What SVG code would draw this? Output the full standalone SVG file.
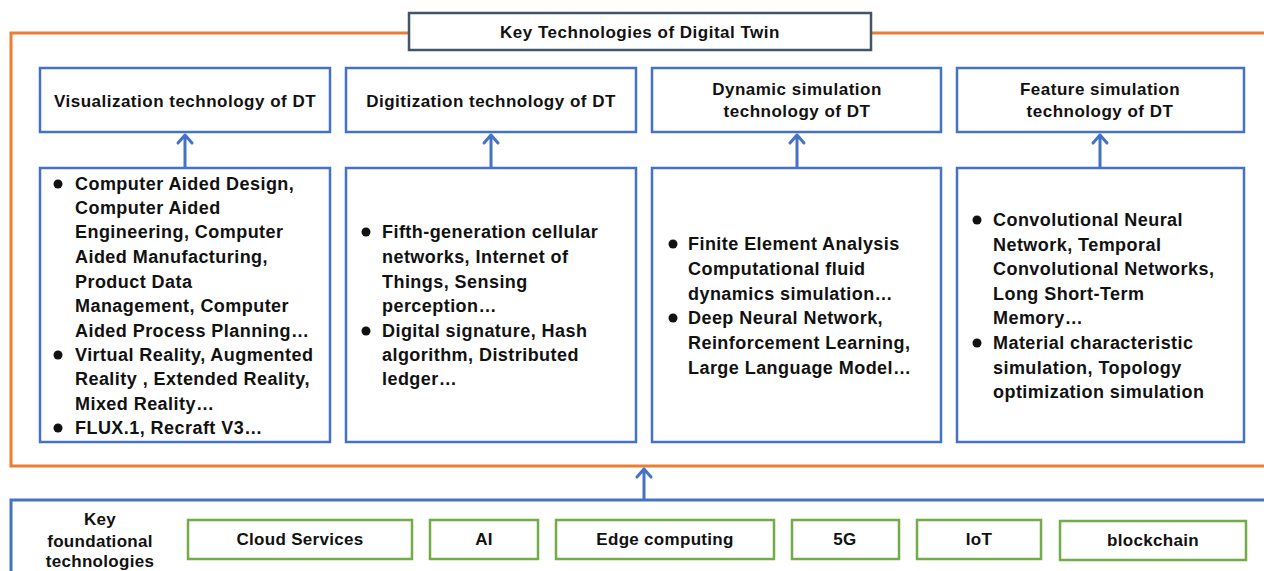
<svg xmlns="http://www.w3.org/2000/svg" width="1264" height="571" viewBox="0 0 1264 571">
<defs>
<style>
.t{font-family:"Liberation Sans",Arial,sans-serif;font-weight:bold;fill:#111;}
.hd{font-size:17px;letter-spacing:0.5px;text-anchor:middle;}
.ct{font-size:18px;letter-spacing:0.45px;}
.gl{font-size:17px;letter-spacing:0.3px;text-anchor:middle;}
.bx{fill:#fff;stroke:#4472c4;stroke-width:2.5;}
.gb{fill:#fff;stroke:#70ad47;stroke-width:2.5;}
.cn{fill:none;stroke:#4472c4;stroke-width:3;stroke-linecap:round;stroke-linejoin:round;}
</style>
</defs>
<rect width="1264" height="571" fill="#fff"/>
<g id="frame">
<rect x="11" y="33" width="1280" height="433" fill="none" stroke="#ed7d31" stroke-width="3"/>
<rect x="11" y="500" width="1280" height="100" fill="none" stroke="#4472c4" stroke-width="3"/>
</g>
<g id="title">
<rect x="409" y="13" width="462" height="37" fill="#fff" stroke="#44546a" stroke-width="2.5"/>
<text class="t hd" x="640" y="38">Key Technologies of Digital Twin</text>
</g>
<g id="h1"><rect class="bx" x="40" y="68" width="290" height="64"/><text class="t hd" x="185" y="107">Visualization technology of DT</text></g>
<g id="h2"><rect class="bx" x="346" y="68" width="290" height="64"/><text class="t hd" x="491" y="107">Digitization technology of DT</text></g>
<g id="h3"><rect class="bx" x="652" y="68" width="289" height="64"/><text class="t hd" x="797" y="95">Dynamic simulation</text><text class="t hd" x="797" y="117">technology of DT</text></g>
<g id="h4"><rect class="bx" x="957" y="68" width="287" height="64"/><text class="t hd" x="1100" y="95">Feature simulation</text><text class="t hd" x="1100" y="117">technology of DT</text></g>
<g id="c1"><rect class="bx" x="40" y="168" width="290" height="274"/>
<circle cx="58" cy="184" r="4.5" fill="#111"/><circle cx="58" cy="355" r="4.5" fill="#111"/><circle cx="58" cy="428" r="4.5" fill="#111"/>
<text class="t ct" x="75" y="190">Computer Aided Design,</text>
<text class="t ct" x="75" y="214">Computer Aided</text>
<text class="t ct" x="75" y="238">Engineering, Computer</text>
<text class="t ct" x="75" y="263">Aided Manufacturing,</text>
<text class="t ct" x="75" y="288">Product Data</text>
<text class="t ct" x="75" y="312">Management, Computer</text>
<text class="t ct" x="75" y="337">Aided Process Planning…</text>
<text class="t ct" x="75" y="361">Virtual Reality, Augmented</text>
<text class="t ct" x="75" y="385">Reality , Extended Reality,</text>
<text class="t ct" x="75" y="410">Mixed Reality…</text>
<text class="t ct" x="75" y="434">FLUX.1, Recraft V3…</text>
</g>
<g id="c2"><rect class="bx" x="346" y="168" width="290" height="274"/>
<circle cx="366" cy="232" r="4.5" fill="#111"/><circle cx="366" cy="331" r="4.5" fill="#111"/>
<text class="t ct" x="382" y="238">Fifth-generation cellular</text>
<text class="t ct" x="382" y="263">networks, Internet of</text>
<text class="t ct" x="382" y="288">Things, Sensing</text>
<text class="t ct" x="382" y="312">perception…</text>
<text class="t ct" x="382" y="337">Digital signature, Hash</text>
<text class="t ct" x="382" y="361">algorithm, Distributed</text>
<text class="t ct" x="382" y="385">ledger…</text>
</g>
<g id="c3"><rect class="bx" x="652" y="168" width="289" height="274"/>
<circle cx="673" cy="244" r="4.5" fill="#111"/><circle cx="673" cy="318" r="4.5" fill="#111"/>
<text class="t ct" x="688" y="250">Finite Element Analysis</text>
<text class="t ct" x="688" y="275">Computational fluid</text>
<text class="t ct" x="688" y="300">dynamics simulation…</text>
<text class="t ct" x="688" y="324">Deep Neural Network,</text>
<text class="t ct" x="688" y="349">Reinforcement Learning,</text>
<text class="t ct" x="688" y="374">Large Language Model…</text>
</g>
<g id="c4"><rect class="bx" x="957" y="168" width="287" height="274"/>
<circle cx="977" cy="220" r="4.5" fill="#111"/><circle cx="977" cy="343" r="4.5" fill="#111"/>
<text class="t ct" x="993" y="226">Convolutional Neural</text>
<text class="t ct" x="993" y="251">Network, Temporal</text>
<text class="t ct" x="993" y="275">Convolutional Networks,</text>
<text class="t ct" x="993" y="300">Long Short-Term</text>
<text class="t ct" x="993" y="324">Memory…</text>
<text class="t ct" x="993" y="349">Material characteristic</text>
<text class="t ct" x="993" y="374">simulation, Topology</text>
<text class="t ct" x="993" y="398">optimization simulation</text>
</g>
<g id="foundation">
<text class="t gl" x="100" y="525">Key</text>
<text class="t gl" x="100" y="547">foundational</text>
<text class="t gl" x="100" y="567">technologies</text>
</g>
<g id="g1"><rect class="gb" x="188" y="520" width="224" height="39"/><text class="t gl" x="300" y="545">Cloud Services</text></g>
<g id="g2"><rect class="gb" x="430" y="520" width="108" height="39"/><text class="t gl" x="484" y="545">AI</text></g>
<g id="g3"><rect class="gb" x="556" y="520" width="218" height="39"/><text class="t gl" x="665" y="545">Edge computing</text></g>
<g id="g4"><rect class="gb" x="792" y="520" width="107" height="39"/><text class="t gl" x="845" y="545">5G</text></g>
<g id="g5"><rect class="gb" x="917" y="520" width="124" height="39"/><text class="t gl" x="979" y="545">IoT</text></g>
<g id="g6"><rect class="gb" x="1060" y="521" width="186" height="39"/><text class="t gl" x="1153" y="546">blockchain</text></g>
<g id="connectors">
<path class="cn" d="M185 167V135M178 143L185 135L192 143"/>
<path class="cn" d="M491 167V135M484 143L491 135L498 143"/>
<path class="cn" d="M797 167V135M790 143L797 135L804 143"/>
<path class="cn" d="M1100 167V135M1093 143L1100 135L1107 143"/>
<path class="cn" d="M644 499V469M637 477L644 469L651 477"/>
</g>
</svg>
